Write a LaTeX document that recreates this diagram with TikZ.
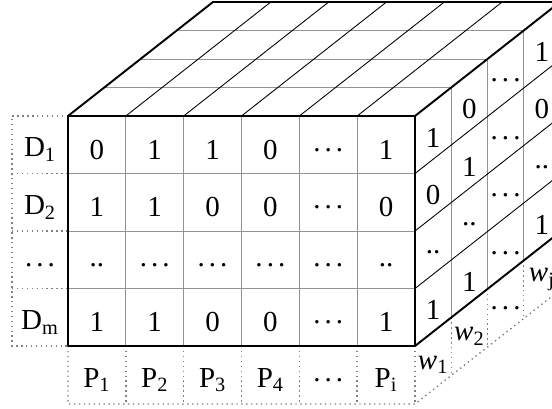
\documentclass[tikz,border=0pt]{standalone}
\usepackage{fontspec}
\setmainfont{Liberation Serif}
\usetikzlibrary{calc}
\newcommand\edots{.\kern0.14em.\kern0.14em.}

\begin{document}
\begin{tikzpicture}[
  x=0.02cm, y=-0.02cm,
  val/.style={inner sep=0pt, font=\fontsize{16.5}{19}\selectfont},
  edge/.style={line width=1.1pt, line join=round},
  grid/.style={gray!85, line width=0.5pt},
  slant/.style={black, line width=0.5pt},
  dots/.style={gray, dotted, line width=0.8pt}
]
\useasboundingbox (0,0) rectangle (552,409);
\clip (0,0) rectangle (552,409);

% Labels (dotted)
\draw[dots] (68,116) -- (12,116) -- (12,346) -- (68,346);
\foreach \r in {1,2,3} \draw[dots] (12,{116+\r*57.5}) -- (68,{116+\r*57.5});
\draw[dots] (68,346) -- (68,404) -- (415,404) -- ++(145,-114);
\foreach \c in {1,...,6} \draw[dots] ({68+\c*57.83},346) -- ++(0,58);
\foreach \k in {1,2,3} \draw[dots] ({415+\k*36.25},{346-\k*28.5}) -- ++(0,58);

% Front face
\foreach \c in {1,...,5} \draw[grid] ({68+\c*57.83},116) -- ({68+\c*57.83},346);
\foreach \r in {1,2,3} \draw[grid] (68,{116+\r*57.5}) -- (415,{116+\r*57.5});

% Top face
\foreach \k in {1,2,3} \draw[grid] ({68+\k*36.25},{116-\k*28.5}) -- ({415+\k*36.25},{116-\k*28.5});
\foreach \c in {1,...,5} \draw[slant] ({68+\c*57.83},116) -- ++(145,-114);

% Right face
\foreach \k in {1,2,3} \draw[grid] ({415+\k*36.25},{116-\k*28.5}) -- ++(0,230);
\foreach \r in {1,2,3} \draw[slant] (415,{116+\r*57.5}) -- ++(145,-114);

% Cube outline
\draw[edge] (68,116) rectangle (415,346);
\draw[edge] (68,116) -- ++(145,-114) -- ++(347,0) -- ++(0,230) -- ++(-145,114);
\draw[edge] (415,116) -- ++(145,-114);

% Front values
\foreach \row [count=\r] in {{0,1,1,0,\edots,1},{1,1,0,0,\edots,0},{..,\edots,\edots,\edots,\edots,..},{1,1,0,0,\edots,1}}
  \foreach \v [count=\c] in \row
    \node[val] (f-\r-\c) at ({68+(\c-0.5)*57.83},{116+(\r-0.5)*57.5+5}) {\v};

% Row labels
\foreach \t [count=\r] in {D\textsubscript{1},D\textsubscript{2},\edots,D\textsubscript{m}}
  \node[val] (d-\r) at (40,{116+(\r-0.5)*57.5+5}) {\t};

% Column labels
\foreach \t [count=\c] in {P\textsubscript{1},P\textsubscript{2},P\textsubscript{3},P\textsubscript{4},\edots,P\textsubscript{i}}
  \node[val] (p-\c) at ({68+(\c-0.5)*57.83},380) {\t};

% Side values
\foreach \col [count=\k] in {{1,0,..,1},{0,1,..,1},{\edots,\edots,\edots,\edots},{1,0,..,1}}
  \foreach \v [count=\r] in \col
    \node[val] (s-\k-\r) at ({415+(\k-0.5)*36.25},{116+(\r-0.5)*57.5-(\k-0.5)*28.5+7}) {\v};

% Layer labels
\foreach \t [count=\k] in {\textit{w}\textsubscript{1},\textit{w}\textsubscript{2},\edots,\textit{w}\textsubscript{j}}
  \node[val] (w-\k) at ({415+(\k-0.5)*36.25},{346+29-(\k-0.5)*28.5+4}) {\t};

\end{tikzpicture}
\end{document}
